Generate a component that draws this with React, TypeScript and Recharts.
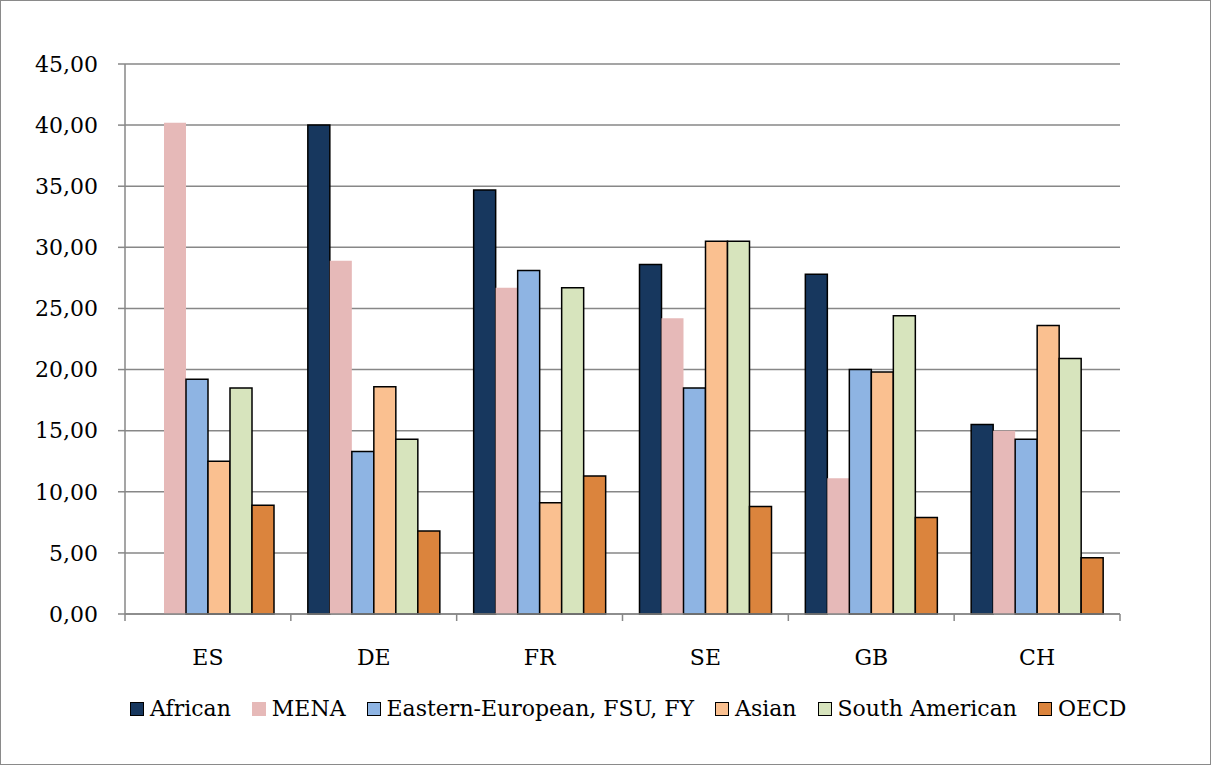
import React from "react";
import { BarChart, Bar, XAxis, YAxis, CartesianGrid } from "recharts";

const categories = ["ES", "DE", "FR", "SE", "GB", "CH"];
const african = [null, 40.0, 34.7, 28.6, 27.8, 15.5];
const mena = [40.2, 28.9, 26.7, 24.2, 11.1, 15.0];
const easternEuropean = [19.2, 13.3, 28.1, 18.5, 20.0, 14.3];
const asian = [12.5, 18.6, 9.1, 30.5, 19.8, 23.6];
const southAmerican = [18.5, 14.3, 26.7, 30.5, 24.4, 20.9];
const oecd = [8.9, 6.8, 11.3, 8.8, 7.9, 4.6];
const yTicks = [0, 5, 10, 15, 20, 25, 30, 35, 40, 45];

const series = [
  { key: "african", name: "African", values: african, color: "#17375E", outlined: true },
  { key: "mena", name: "MENA", values: mena, color: "#E6B9B8", outlined: false },
  { key: "eastern", name: "Eastern-European, FSU, FY", values: easternEuropean, color: "#8EB4E3", outlined: true },
  { key: "asian", name: "Asian", values: asian, color: "#FAC090", outlined: true },
  { key: "southAmerican", name: "South American", values: southAmerican, color: "#D7E4BD", outlined: true },
  { key: "oecd", name: "OECD", values: oecd, color: "#DB843D", outlined: true },
];

const data = categories.map((c, i) => {
  const row: any = { category: c };
  series.forEach((s) => (row[s.key] = s.values[i]));
  return row;
});

const W = 1211;
const H = 765;
const PLOT_LEFT = 125;
const PLOT_RIGHT = 1120;
const BAND = (PLOT_RIGHT - PLOT_LEFT) / categories.length;
const FONT = "'DejaVu Serif', serif";
const AXIS = "#878787";

const fmt = (v: number) => v.toFixed(2).replace(".", ",");

function CategoryTick(props: any) {
  const { x, y, payload, index } = props;
  const left = x - BAND / 2;
  const right = x + BAND / 2;
  return (
    <g>
      <line x1={left} y1={y} x2={left} y2={y + 7} stroke={AXIS} strokeWidth={1.5} />
      {index === categories.length - 1 && (
        <line x1={right} y1={y} x2={right} y2={y + 7} stroke={AXIS} strokeWidth={1.5} />
      )}
      <text x={x} y={y + 51} textAnchor="middle" fontFamily={FONT} fontSize={22} fill="#000">
        {payload.value}
      </text>
    </g>
  );
}

export default function App() {
  return (
    <div
      style={{
        position: "absolute",
        left: 0,
        top: 0,
        width: W,
        height: H,
        boxSizing: "border-box",
        border: "1px solid #8a8a8a",
        background: "#fff",
      }}
    >
      <div style={{ position: "absolute", left: -1, top: -1 }}>
        <BarChart
          width={W}
          height={H}
          data={data}
          margin={{ top: 64, right: W - PLOT_RIGHT, bottom: 91, left: 0 }}
          barCategoryGap={17}
          barGap={0}
        >
          <CartesianGrid vertical={false} stroke={AXIS} strokeWidth={1.5} />
          <XAxis
            dataKey="category"
            height={60}
            axisLine={{ stroke: AXIS, strokeWidth: 1.5 }}
            tickLine={false}
            tickSize={0}
            tickMargin={0}
            interval={0}
            tick={<CategoryTick />}
          />
          <YAxis
            width={PLOT_LEFT}
            domain={[0, 45]}
            ticks={yTicks}
            interval={0}
            tickFormatter={fmt}
            axisLine={{ stroke: AXIS, strokeWidth: 1.5 }}
            tickLine={{ stroke: AXIS, strokeWidth: 1.5 }}
            tickSize={7}
            tickMargin={20}
            tick={{ fill: "#000", fontSize: 22, fontFamily: FONT }}
          />
          {series.map((s) => (
            <Bar
              key={s.key}
              dataKey={s.key}
              name={s.name}
              fill={s.color}
              stroke={s.outlined ? "#000" : "none"}
              strokeWidth={s.outlined ? 1.5 : 0}
              isAnimationActive={false}
            />
          ))}
        </BarChart>
      </div>
      <div
        style={{
          position: "absolute",
          left: 129,
          top: 695,
          display: "flex",
          alignItems: "center",
          fontFamily: FONT,
          fontSize: 22,
          color: "#000",
          whiteSpace: "nowrap",
        }}
      >
        {series.map((s) => (
          <div key={s.key} style={{ display: "flex", alignItems: "center", marginRight: 21 }}>
            <span
              style={{
                display: "inline-block",
                width: 14,
                height: 14,
                boxSizing: "border-box",
                background: s.color,
                border: s.outlined ? "1.5px solid #000" : "none",
                marginRight: 6,
              }}
            />
            <span>{s.name}</span>
          </div>
        ))}
      </div>
    </div>
  );
}
